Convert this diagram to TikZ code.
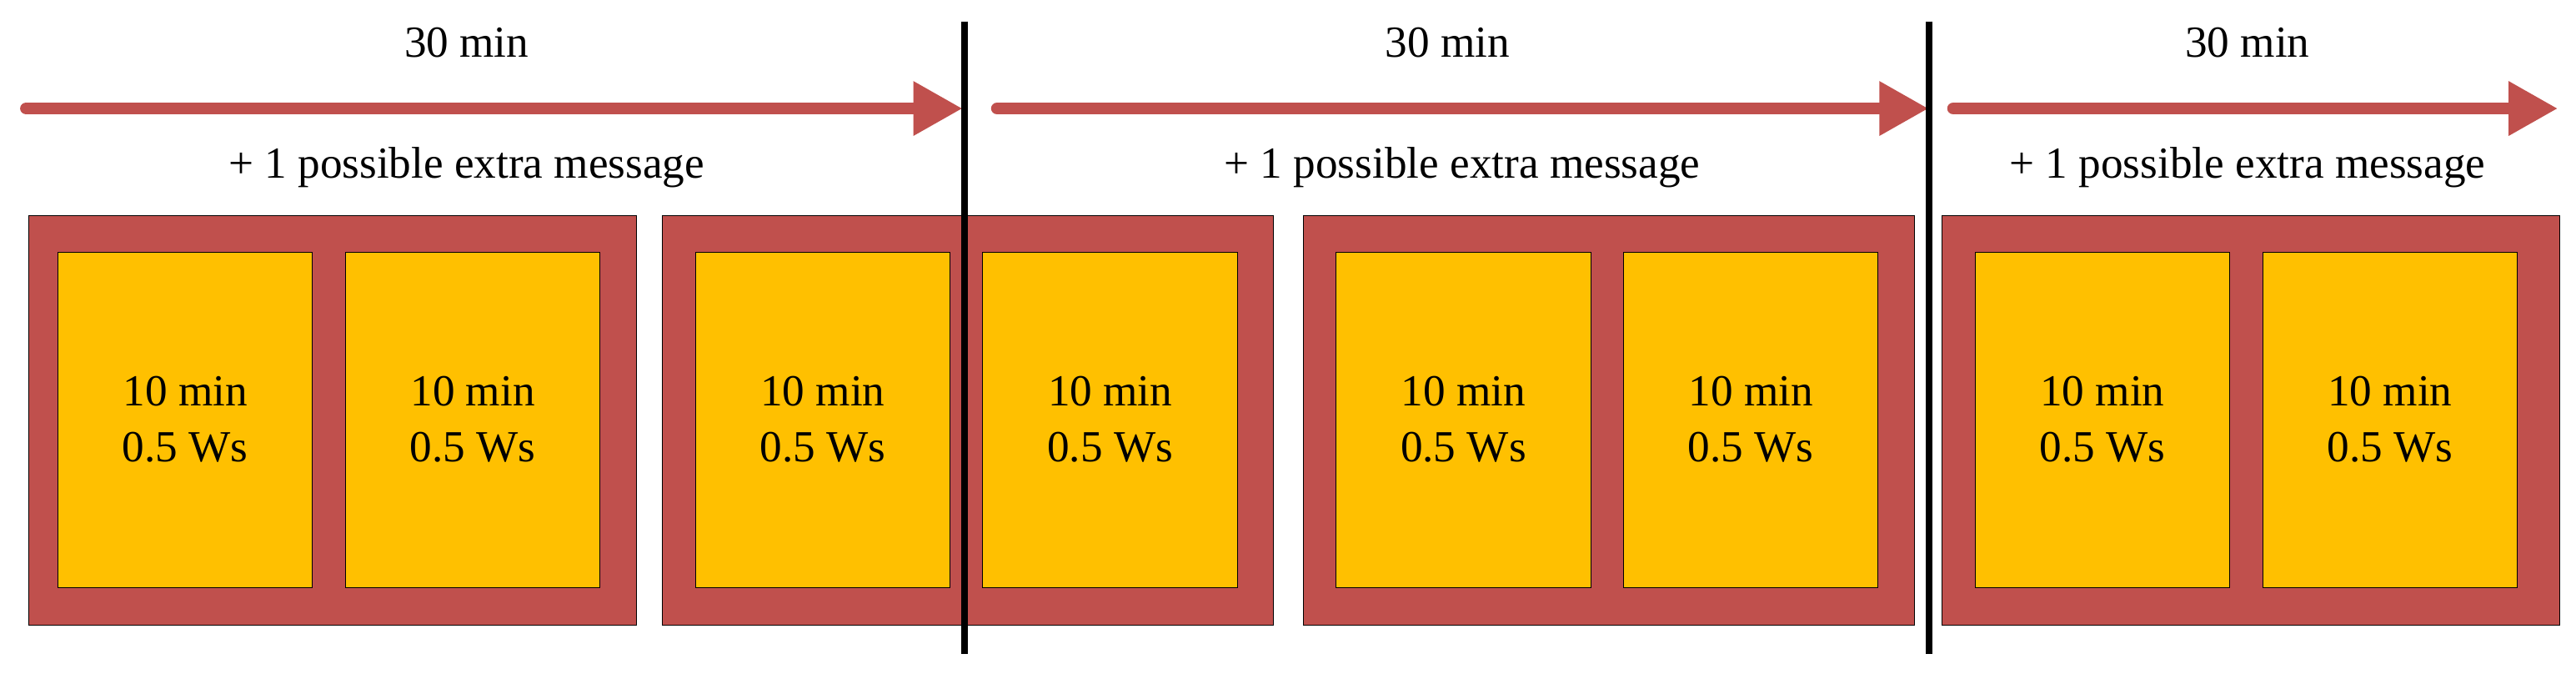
\documentclass[tikz,border=0pt]{standalone}
\usepackage{fontspec}
\setmainfont{Liberation Serif}
\usetikzlibrary{arrows.meta}
\definecolor{brick}{HTML}{C0504D}
\definecolor{amber}{HTML}{FFC000}
\begin{document}
\begin{tikzpicture}[x=1pt,y=-1pt,
  outerbox/.style={draw=black,line width=0.5pt,fill=brick,minimum width=#1,minimum height=249pt,inner sep=0pt,anchor=north west},
  slot/.style={draw=black,line width=0.5pt,fill=amber,minimum width=155pt,minimum height=204pt,inner sep=0pt,anchor=north west,align=center,font=\fontsize{27}{34}\selectfont},
  lbl/.style={font=\fontsize{27}{32}\selectfont,inner sep=0pt},
  period/.style={draw=brick,line width=7.5pt,line cap=round,-{Triangle[length=30pt,width=31pt]}},
  divider/.style={line width=4pt}]
\useasboundingbox (0,0) rectangle (1568,410);
\node[outerbox=370pt] (o1) at (17,131) {};
\node[outerbox=372pt] (o2) at (403,131) {};
\node[outerbox=372pt] (o3) at (793,131) {};
\node[outerbox=376pt] (o4) at (1182,131) {};
\foreach \n/\x in {s1/35,s2/210,s3/423,s4/598,s5/813,s6/988,s7/1202,s8/1377}
  \node[slot] (\n) at (\x,153) {10 min\\0.5 Ws};
\coordinate (a1s) at (16,66); \coordinate (a1e) at (586,66);
\coordinate (a2s) at (607,66); \coordinate (a2e) at (1174,66);
\coordinate (a3s) at (1189,66); \coordinate (a3e) at (1557,66);
\draw[period] (a1s) -- (a1e);
\draw[period] (a2s) -- (a2e);
\draw[period] (a3s) -- (a3e);
\coordinate (v1t) at (587,13); \coordinate (v1b) at (587,398);
\coordinate (v2t) at (1174,13); \coordinate (v2b) at (1174,398);
\draw[divider] (v1t) -- (v1b);
\draw[divider] (v2t) -- (v2b);
\node[lbl] (t1) at (284,26) {30 min};
\node[lbl] (t2) at (881,26) {30 min};
\node[lbl] (t3) at (1368,26) {30 min};
\node[lbl] (e1) at (284,102) {+ 1 possible extra message};
\node[lbl] (e2) at (890,102) {+ 1 possible extra message};
\node[lbl] (e3) at (1368,102) {+ 1 possible extra message};
\end{tikzpicture}
\end{document}
